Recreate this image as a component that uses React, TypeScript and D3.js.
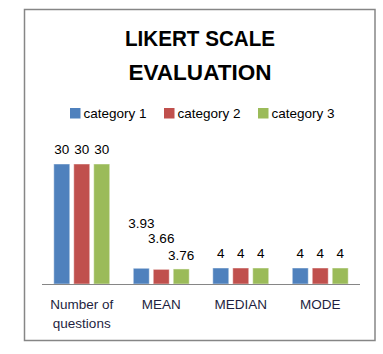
import React from "react";
import * as d3 from "d3";

const categories = ["Number of questions", "MEAN", "MEDIAN", "MODE"];
const seriesNames = ["category 1", "category 2", "category 3"];
const category1 = [30, 3.93, 4, 4];
const category2 = [30, 3.66, 4, 4];
const category3 = [30, 3.76, 4, 4];
const valueLabels = [
  ["30", "3.93", "4", "4"],
  ["30", "3.66", "4", "4"],
  ["30", "3.76", "4", "4"],
];
const colors = ["#4F81BD", "#C0504D", "#9BBB59"];

const width = 383, height = 354;
const font = "'Liberation Sans', Arial, sans-serif";

export default function App() {
  const series = [category1, category2, category3];

  const x = d3.scaleBand().domain(categories).range([42, 360]).paddingInner(0).paddingOuter(0);
  const inner = d3.scaleBand().domain(seriesNames).range([0, x.bandwidth()]).paddingInner(0.2).paddingOuter(0.59);
  const y = d3.scaleLinear().domain([0, 30]).range([284, 164]);

  // MEAN labels are staggered in the original so they don't overlap
  const labelLift = (ci: number, si: number) => (ci === 1 ? [40, 26, 9][si] : 10);

  return (
    <svg width={width} height={height} style={{ position: "absolute", left: 0, top: 0 }}>
      <rect x={0} y={0} width={width} height={height} fill="#fff" />
      <rect x={24.5} y={9.5} width={350.5} height={331} fill="#fff" stroke="#868686" strokeWidth={1.5} />

      <text x={200} y={46} textAnchor="middle" fontFamily={font} fontWeight="bold" fontSize={22} fill="#000"
        textLength={150} lengthAdjust="spacingAndGlyphs">
        LIKERT SCALE
      </text>
      <text x={200} y={80} textAnchor="middle" fontFamily={font} fontWeight="bold" fontSize={22} fill="#000"
        textLength={143} lengthAdjust="spacingAndGlyphs">
        EVALUATION
      </text>

      {[70, 164, 258].map((lx, i) => (
        <g key={seriesNames[i]}>
          <rect x={lx} y={108} width={10.5} height={10.5} fill={colors[i]} />
          <text x={lx + 13.5} y={118} fontFamily={font} fontSize={13.5} fill="#000">
            {seriesNames[i]}
          </text>
        </g>
      ))}

      {series.map((vals, si) => (
        <g key={si}>
          {vals.map((v, ci) => {
            const bx = (x(categories[ci]) as number) + (inner(seriesNames[si]) as number);
            const bw = inner.bandwidth();
            return (
              <g key={ci}>
                <rect x={bx} y={y(v)} width={bw} height={y(0) - y(v)} fill={colors[si]}
                  stroke="#ffffff" strokeOpacity={0.45} strokeWidth={1} />
                <text x={bx + bw / 2} y={y(v) - labelLift(ci, si)} textAnchor="middle"
                  fontFamily={font} fontSize={13.5} fill="#000">
                  {valueLabels[si][ci]}
                </text>
              </g>
            );
          })}
        </g>
      ))}

      <line x1={42} x2={360} y1={284.5} y2={284.5} stroke="#868686" strokeWidth={1} />

      {categories.map((c) => {
        const cx = (x(c) as number) + x.bandwidth() / 2;
        const lines = c === "Number of questions" ? ["Number of", "questions"] : [c];
        return (
          <text key={c} textAnchor="middle" fontFamily={font} fontSize={13.5} fill="#1F1F3F">
            {lines.map((l, i) => (
              <tspan key={i} x={cx} y={309 + i * 19}>{l}</tspan>
            ))}
          </text>
        );
      })}
    </svg>
  );
}
